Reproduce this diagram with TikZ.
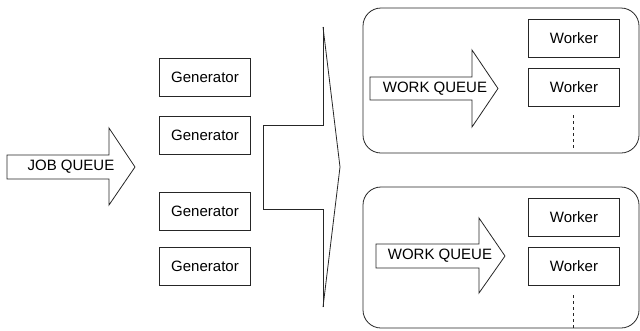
\documentclass[tikz,border=0pt]{standalone}
\usepackage{fontspec}
\setmainfont{Liberation Sans}
\usetikzlibrary{positioning}
\newcommand{\linecolor}{black!85}
\newcommand{\thickness}{0.8pt}
\newcommand{\textsize}{\fontsize{15pt}{18pt}\selectfont}
\tikzset{
  box/.style={draw=\linecolor, line width=\thickness, minimum width=91pt, minimum height=38pt, inner sep=0pt, font=\textsize},
  pool/.style={draw=\linecolor, line width=\thickness, rounded corners=18pt, inner sep=0pt},
  queuetext/.style={inner sep=0pt, font=\textsize},
  outline/.style={draw=\linecolor, line width=\thickness},
  dots/.style={draw=\linecolor, line width=\thickness, dash pattern=on 3pt off 3pt}
}

\begin{document}
\begin{tikzpicture}[x=1pt, y=-1pt]
\useasboundingbox (0,0) rectangle (640,330);
%job queue
\draw[outline] (7,155) -- (109,155) -- (109,128) -- (135,167) -- (109,205) -- (109,179) -- (7,179) -- cycle;
\node[queuetext] (jq) at (71,167) {JOB QUEUE};
%generators
\node[box] (g1) at (205,77.5) {Generator};
\node[box] (g2) at (205,135) {Generator};
\node[box] (g3) at (205,211.5) {Generator};
\node[box] (g4) at (205,266.5) {Generator};
%merge
\draw[outline] (323,27) -- (323,125) -- (263,125) -- (263,209) -- (323,209) -- (323,307);
\draw[outline] (323,27) -- (340,167) -- (323,307);
%pools
\node[pool, minimum width=276pt, minimum height=145pt] (p1) at (501,80.5) {};
\node[pool, minimum width=276pt, minimum height=141pt] (p2) at (501,257.5) {};
%work queue 1
\draw[outline] (370,77) -- (472,77) -- (472,50) -- (498,88.5) -- (472,127) -- (472,100) -- (370,100) -- cycle;
\node[queuetext] (wq1) at (435,88.5) {WORK QUEUE};
\node[box] (w1) at (574,38.5) {Worker};
\node[box] (w2) at (574,87.5) {Worker};
\coordinate (d1a) at (573,115);
\coordinate (d1b) at (573,149);
\draw[dots] (d1a) -- (d1b);
%work queue 2
\draw[outline] (376,244) -- (479,244) -- (479,218) -- (505,256) -- (479,293) -- (479,268) -- (376,268) -- cycle;
\node[queuetext] (wq2) at (440,256) {WORK QUEUE};
\node[box] (w3) at (574,217.5) {Worker};
\node[box] (w4) at (574,266.5) {Worker};
\coordinate (d2a) at (573,295);
\coordinate (d2b) at (573,328);
\draw[dots] (d2a) -- (d2b);
\end{tikzpicture}
\end{document}
